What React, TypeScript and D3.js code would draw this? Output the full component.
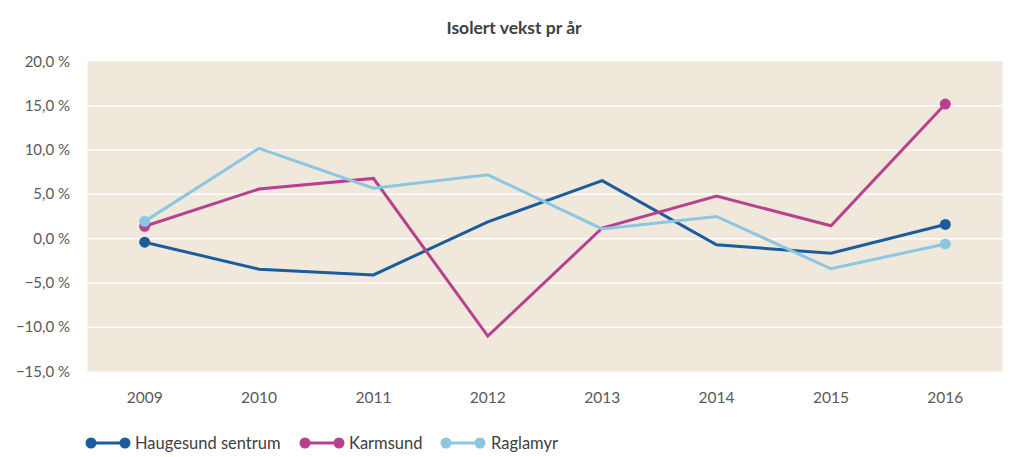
import React from "react";
import * as d3 from "d3";

const years = ["2009", "2010", "2011", "2012", "2013", "2014", "2015", "2016"];
const haugesund = [-0.4, -3.45, -4.1, 1.9, 6.55, -0.7, -1.65, 1.6];
const karmsund = [1.4, 5.6, 6.8, -11.0, 1.2, 4.8, 1.45, 15.2];
const raglamyr = [1.95, 10.2, 5.7, 7.2, 1.1, 2.5, -3.4, -0.6];
const yTicks = [20, 15, 10, 5, 0, -5, -10, -15];
const seriesNames = ["Haugesund sentrum", "Karmsund", "Raglamyr"];
const seriesColors = ["#1b5c9c", "#b8418f", "#8bc6e3"];

const W = 1024;
const H = 457;
const plot = { left: 87.5, right: 1002.5, top: 61.5, bottom: 371.5 };
const font = "Lato, 'Open Sans', sans-serif";

export default function App() {
  const x = d3.scaleBand<string>().domain(years).range([plot.left, plot.right]);
  const y = d3.scaleLinear().domain([-15, 20]).range([plot.bottom, plot.top]);
  const xc = (yr: string) => (x(yr) as number) + x.bandwidth() / 2;
  const line = d3
    .line<number>()
    .x((_, i) => xc(years[i]))
    .y((d) => y(d));
  const all = [haugesund, karmsund, raglamyr];
  const legendX = [91, 305, 446];
  const legendText = [135, 349, 491];

  return (
    <div style={{ position: "fixed", left: 0, top: 0 }}>
      <svg width={W} height={H} style={{ display: "block", background: "#fff" }}>
        <text x={514} y={34} textAnchor="middle" fontFamily={font} fontWeight="bold" fontSize={17.5} fill="#404040">
          Isolert vekst pr år
        </text>
        <rect x={plot.left} y={plot.top} width={plot.right - plot.left} height={plot.bottom - plot.top} fill="#f0e8da" />
        {yTicks.map((t) => (
          <g key={t}>
            {t !== 20 && t !== -15 && (
              <line x1={plot.left} x2={plot.right} y1={y(t)} y2={y(t)} stroke="#ffffff" strokeWidth={1.5} />
            )}
            <text x={70} y={y(t) + 5} textAnchor="end" fontFamily={font} fontSize={15} fill="#595959">
              {d3.format(".1f")(t).replace(".", ",") + " %"}
            </text>
          </g>
        ))}
        {years.map((yr) => (
          <text key={yr} x={xc(yr)} y={403} textAnchor="middle" fontFamily={font} fontSize={15.5} fill="#595959">
            {yr}
          </text>
        ))}
        {all.map((s, si) => (
          <g key={si}>
            <path d={line(s) || ""} fill="none" stroke={seriesColors[si]} strokeWidth={3} strokeLinejoin="miter" />
            <circle cx={xc(years[0])} cy={y(s[0])} r={5.5} fill={seriesColors[si]} />
            <circle cx={xc(years[years.length - 1])} cy={y(s[s.length - 1])} r={5.5} fill={seriesColors[si]} />
          </g>
        ))}
        {seriesNames.map((n, i) => (
          <g key={n}>
            <line x1={legendX[i]} x2={legendX[i] + 34} y1={443} y2={443} stroke={seriesColors[i]} strokeWidth={3} />
            <circle cx={legendX[i]} cy={443} r={5.5} fill={seriesColors[i]} />
            <circle cx={legendX[i] + 34} cy={443} r={5.5} fill={seriesColors[i]} />
            <text x={legendText[i]} y={449} fontFamily={font} fontSize={16.5} fill="#404040">
              {n}
            </text>
          </g>
        ))}
      </svg>
    </div>
  );
}
